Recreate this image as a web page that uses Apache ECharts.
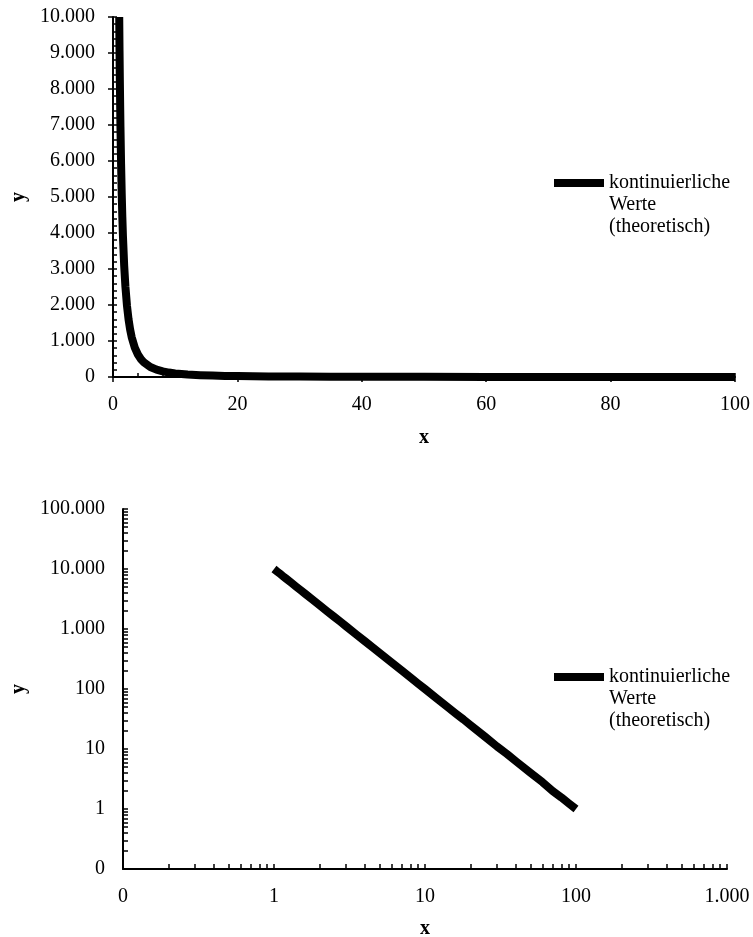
<!DOCTYPE html>
<html>
<head>
<meta charset="utf-8">
<script src="https://cdn.jsdelivr.net/npm/echarts@6/dist/echarts.min.js"></script>
<style>
html,body{margin:0;padding:0;background:#fff;}
#chart{width:753px;height:937px;}
</style>
</head>
<body>
<div id="chart"></div>
<script>
// ---- data ----
const xValues = [1, 1.05, 1.1, 1.15, 1.2, 1.3, 1.4, 1.5, 1.6, 1.8, 2, 2.25, 2.5, 2.75, 3, 3.5, 4, 4.5, 5, 6, 7, 8, 9, 10, 12, 14, 16, 18, 20, 25, 30, 35, 40, 50, 60, 70, 80, 90, 100];
const yValues = [10000, 9070, 8264, 7561, 6944, 5917, 5102, 4444, 3906, 3086, 2500, 1975, 1600, 1322, 1111, 816, 625, 494, 400, 278, 204, 156, 123, 100, 69, 51, 39, 31, 25, 16, 11, 8.2, 6.25, 4, 2.8, 2.0, 1.56, 1.23, 1];
const legendLines = ['kontinuierliche', 'Werte', '(theoretisch)'];

// tick labels
const topXTicks = [0, 20, 40, 60, 80, 100];
const topYTicks = [0, 1000, 2000, 3000, 4000, 5000, 6000, 7000, 8000, 9000, 10000];
const logXTicks = [0.1, 1, 10, 100, 1000];
const logYTicks = [0.1, 1, 10, 100, 1000, 10000, 100000];

// ---- helpers ----
const FONT = 'Liberation Serif';
function fmt(v) {
  if (v < 1) return '0';
  return String(Math.round(v)).replace(/\B(?=(\d{3})+(?!\d))/g, '.');
}
function minorLinear(min, max, step) {
  const out = [];
  for (let v = min; v <= max + 1e-9; v += step) out.push(Math.round(v * 1000) / 1000);
  return out;
}
function minorLog(ticks) {
  const out = [];
  for (let i = 0; i < ticks.length - 1; i++) {
    for (let k = 1; k <= 9; k++) out.push(ticks[i] * k);
  }
  out.push(ticks[ticks.length - 1]);
  return out;
}
const pts = xValues.map((x, i) => [x, yValues[i]]);
// two blank lines first so the first text line sits level with the legend line
const legendText = '\n\n' + legendLines.join('\n');

const axisLine = { show: true, lineStyle: { color: '#000', width: 2 } };
const labelStyle = { color: '#000', fontFamily: FONT, fontSize: 20 };
const nameStyle = { color: '#000', fontFamily: FONT, fontSize: 20, fontWeight: 'bold' };

const chart = echarts.init(document.getElementById('chart'), null, { renderer: 'canvas' });
chart.setOption({
  animation: false,
  backgroundColor: '#fff',
  grid: [
    { left: 113, right: 18, top: 17, bottom: 560, containLabel: false, outerBoundsMode: 'none' },
    { left: 123, right: 26, top: 509, bottom: 68, containLabel: false, outerBoundsMode: 'none' }
  ],
  xAxis: [
    { // top main
      type: 'value', gridIndex: 0, min: 0, max: 100, interval: 20,
      name: 'x', nameLocation: 'middle', nameGap: 51, nameTextStyle: nameStyle,
      axisLine: axisLine,
      axisTick: { show: true, inside: false, length: 5, lineStyle: { color: '#000', width: 1.5 } },
      axisLabel: Object.assign({ margin: 18, formatter: fmt, customValues: topXTicks }, labelStyle),
      splitLine: { show: false }
    },
    { // top minor ticks (inside)
      type: 'value', gridIndex: 0, min: 0, max: 100, position: 'bottom',
      axisLine: { show: false },
      axisTick: { show: true, inside: true, length: 4, customValues: minorLinear(0, 100, 4), lineStyle: { color: '#000', width: 1.5 } },
      axisLabel: { show: false },
      splitLine: { show: false }
    },
    { // bottom log
      type: 'log', logBase: 10, gridIndex: 1, min: 0.1, max: 1000,
      name: 'x', nameLocation: 'middle', nameGap: 50, nameTextStyle: nameStyle,
      axisLine: axisLine,
      axisTick: { show: true, inside: true, length: 5, customValues: minorLog(logXTicks), lineStyle: { color: '#000', width: 1.5 } },
      axisLabel: Object.assign({ margin: 18, formatter: fmt, customValues: logXTicks }, labelStyle),
      splitLine: { show: false }
    }
  ],
  yAxis: [
    { // top main
      type: 'value', gridIndex: 0, min: 0, max: 10000, interval: 1000,
      name: 'y', nameLocation: 'middle', nameGap: 83, nameTextStyle: nameStyle,
      axisLine: axisLine,
      axisTick: { show: true, inside: false, length: 5, lineStyle: { color: '#000', width: 1.5 } },
      axisLabel: Object.assign({ margin: 18, formatter: fmt, customValues: topYTicks }, labelStyle),
      splitLine: { show: false }
    },
    { // top minor ticks (inside)
      type: 'value', gridIndex: 0, min: 0, max: 10000, position: 'left',
      axisLine: { show: false },
      axisTick: { show: true, inside: true, length: 4, customValues: minorLinear(0, 10000, 200), lineStyle: { color: '#000', width: 1.5 } },
      axisLabel: { show: false },
      splitLine: { show: false }
    },
    { // bottom log
      type: 'log', logBase: 10, gridIndex: 1, min: 0.1, max: 100000,
      name: 'y', nameLocation: 'middle', nameGap: 93, nameTextStyle: nameStyle,
      axisLine: axisLine,
      axisTick: { show: true, inside: true, length: 5, customValues: minorLog(logYTicks), lineStyle: { color: '#000', width: 1.5 } },
      axisLabel: Object.assign({ margin: 18, formatter: fmt, customValues: logYTicks }, labelStyle),
      splitLine: { show: false }
    }
  ],
  legend: [
    {
      data: ['top'], left: 549, top: 123, orient: 'vertical',
      itemWidth: 50, itemHeight: 8, icon: 'rect',
      formatter: () => legendText,
      textStyle: { color: '#000', fontFamily: FONT, fontSize: 20, lineHeight: 22 },
      selectedMode: false
    },
    {
      data: ['bottom'], left: 549, top: 617, orient: 'vertical',
      itemWidth: 50, itemHeight: 8, icon: 'rect',
      formatter: () => legendText,
      textStyle: { color: '#000', fontFamily: FONT, fontSize: 20, lineHeight: 22 },
      selectedMode: false
    }
  ],
  series: [
    {
      name: 'top', type: 'line', xAxisIndex: 0, yAxisIndex: 0, data: pts,
      showSymbol: false, symbol: 'none', smooth: false, clip: true,
      lineStyle: { color: '#000', width: 8, join: 'round' }, itemStyle: { color: '#000' }
    },
    {
      name: 'bottom', type: 'line', xAxisIndex: 2, yAxisIndex: 2, data: pts,
      showSymbol: false, symbol: 'none', smooth: false, clip: true,
      lineStyle: { color: '#000', width: 8, join: 'round' }, itemStyle: { color: '#000' }
    }
  ]
});
</script>
</body>
</html>
